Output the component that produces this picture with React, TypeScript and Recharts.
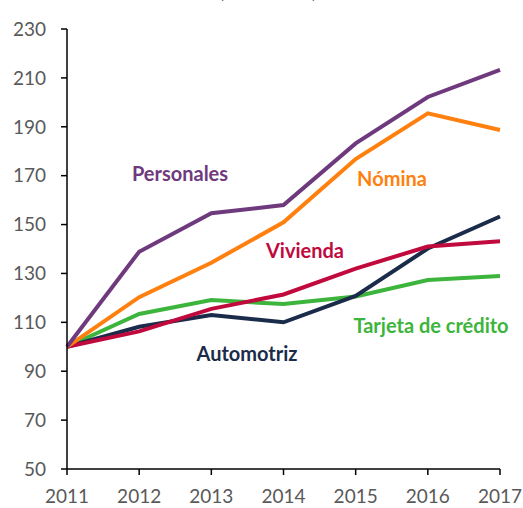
import React from 'react';
import { LineChart, Line, XAxis, YAxis } from 'recharts';

const years = ['2011', '2012', '2013', '2014', '2015', '2016', '2017'];
const personales = [100, 138.9, 154.6, 158, 183.2, 202.2, 213.3];
const nomina = [100, 120.3, 134.4, 150.9, 176.8, 195.5, 188.7];
const vivienda = [100, 106.3, 115.5, 121.4, 132, 141, 143.2];
const tarjeta = [100, 113.4, 119.1, 117.5, 120.6, 127.3, 129];
const automotriz = [100, 108.2, 113, 110, 120.8, 140.2, 153.3];
const yTicks = [50, 70, 90, 110, 130, 150, 170, 190, 210, 230];

const colors = {
  personales: '#6F3A7D',
  nomina: '#FF7F0F',
  vivienda: '#C00A3E',
  tarjeta: '#3DB53D',
  automotriz: '#1B2B4A',
};

const data = years.map((y, i) => ({
  year: y,
  personales: personales[i],
  nomina: nomina[i],
  vivienda: vivienda[i],
  tarjeta: tarjeta[i],
  automotriz: automotriz[i],
}));

const FONT = 'Lato, "Open Sans", sans-serif';
const tickStyle = { fill: '#595959', fontSize: 19, fontFamily: FONT };

const labelStyle = { fontFamily: FONT, fontWeight: 700, fontSize: 20 } as const;

export default function App() {
  return (
    <div style={{ position: 'absolute', left: 0, top: 0, width: 523, height: 508, background: '#fff' }}>
      <LineChart
        width={523}
        height={508}
        data={data}
        margin={{ top: 29, right: 23, left: 0, bottom: 0 }}
      >
        <XAxis
          dataKey="year"
          height={39}
          axisLine={{ stroke: '#000', strokeWidth: 1.5 }}
          tickLine={{ stroke: '#000', strokeWidth: 1.5 }}
          tickSize={6}
          tickMargin={15}
          tick={tickStyle}
          interval={0}
        />
        <YAxis
          domain={[50, 230]}
          ticks={yTicks}
          width={67}
          axisLine={{ stroke: '#000', strokeWidth: 1.5 }}
          tickLine={{ stroke: '#000', strokeWidth: 1.5 }}
          tickSize={6}
          tickMargin={15}
          tick={tickStyle}
          interval={0}
        />
        <Line dataKey="tarjeta" stroke={colors.tarjeta} strokeWidth={4} dot={false} isAnimationActive={false} />
        <Line dataKey="automotriz" stroke={colors.automotriz} strokeWidth={4} dot={false} isAnimationActive={false} />
        <Line dataKey="vivienda" stroke={colors.vivienda} strokeWidth={4} dot={false} isAnimationActive={false} />
        <Line dataKey="nomina" stroke={colors.nomina} strokeWidth={4} dot={false} isAnimationActive={false} />
        <Line dataKey="personales" stroke={colors.personales} strokeWidth={4} dot={false} isAnimationActive={false} />
        <text x={268} y={-2} textAnchor="middle" style={{ fontFamily: FONT, fontSize: 19, fontWeight: 400 }} fill="#000">(2011=100)</text>
        <text x={180} y={181} textAnchor="middle" fill={colors.personales} style={labelStyle}>Personales</text>
        <text x={392} y={186} textAnchor="middle" fill={colors.nomina} style={labelStyle}>Nómina</text>
        <text x={305} y={258} textAnchor="middle" fill={colors.vivienda} style={labelStyle}>Vivienda</text>
        <text x={431} y={333} textAnchor="middle" fill={colors.tarjeta} style={labelStyle}>Tarjeta de crédito</text>
        <text x={247} y={361} textAnchor="middle" fill={colors.automotriz} style={labelStyle}>Automotriz</text>
      </LineChart>
    </div>
  );
}
